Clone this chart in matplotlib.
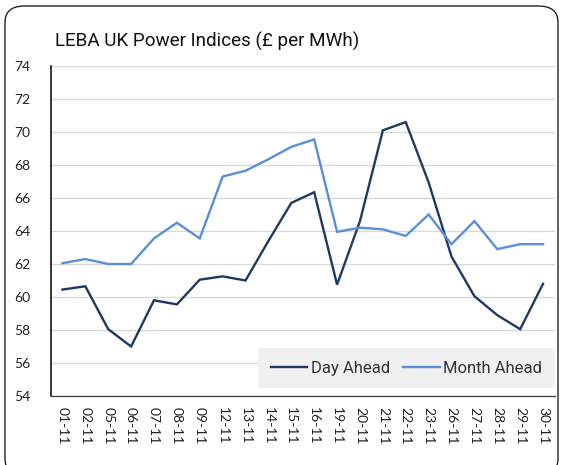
import matplotlib
matplotlib.use("Agg")
import matplotlib.pyplot as plt
from matplotlib.patches import FancyBboxPatch

dates = ["01-11", "02-11", "05-11", "06-11", "07-11", "08-11", "09-11",
         "12-11", "13-11", "14-11", "15-11", "16-11", "19-11", "20-11",
         "21-11", "22-11", "23-11", "26-11", "27-11", "28-11", "29-11", "30-11"]
day_ahead = [60.45, 60.65, 58.05, 57.0, 59.8, 59.55, 61.05, 61.25, 61.0, 63.4, 65.7,
             66.35, 60.75, 64.6, 70.1, 70.6, 66.95, 62.45, 60.05, 58.9, 58.05, 60.8]
month_ahead = [62.05, 62.3, 62.0, 62.0, 63.55, 64.5, 63.55, 67.3, 67.65, 68.35, 69.1,
               69.55, 63.95, 64.2, 64.1, 63.7, 65.0, 63.2, 64.6, 62.9, 63.2, 63.2]
yticks = list(range(54, 75, 2))

W, H = 563, 465
fig = plt.figure(figsize=(W / 100, H / 100), dpi=100)
fig.patch.set_facecolor("white")

ax = fig.add_axes([51 / W, 1 - 396 / H, (554.5 - 51) / W, (396 - 66) / H])

x = list(range(len(dates)))
l1, = ax.plot(x, day_ahead, color="#1f3864", lw=1.7, label="Day Ahead", solid_joinstyle="miter")
l2, = ax.plot(x, month_ahead, color="#5a8fd8", lw=1.7, label="Month Ahead", solid_joinstyle="miter")

ax.set_xlim(-0.5, len(dates) - 0.5)
ax.set_ylim(54, 74)
ax.set_yticks(yticks)
ax.set_yticklabels([str(v) for v in yticks], fontsize=10, family="Lato", color="#222222")
ax.set_xticks(x)
ax.set_xticklabels(dates, rotation=270, fontsize=10, family="Lato", color="#222222")
ax.tick_params(axis="y", length=0, pad=15)
ax.tick_params(axis="x", length=0, pad=8)
ax.yaxis.grid(True, color="#d9d9d9", lw=1.0)
ax.set_axisbelow(True)
for s in ["top", "right"]:
    ax.spines[s].set_visible(False)
ax.spines["left"].set_color("#000000")
ax.spines["left"].set_linewidth(1.1)
ax.spines["bottom"].set_color("#404040")
ax.spines["bottom"].set_linewidth(0.9)

leg = ax.legend(handles=[l1, l2], loc="lower right", bbox_to_anchor=(1.0, 0.024),
                borderaxespad=0, ncol=2, frameon=True, fancybox=False, facecolor="#f0f0f0",
                edgecolor="none", framealpha=1, handlelength=2.2, handletextpad=0.2,
                columnspacing=0.8, borderpad=0.75,
                prop={"family": "Roboto", "size": 12})
for t in leg.get_texts():
    t.set_color("#333333")

fig.text(55 / W, 1 - 47 / H, "LEBA UK Power Indices (£ per MWh)", fontsize=13.6,
         family="Roboto", color="#111111", ha="left", va="baseline")

border = FancyBboxPatch((5 / W, -10 / H), (558 - 5) / W, (H - 6 + 10) / H,
                        boxstyle="round,pad=0,rounding_size=0.035",
                        transform=fig.transFigure, fill=False, edgecolor="#222222",
                        lw=1.0, clip_on=False)
fig.patches.append(border)

fig.savefig("out.png", dpi=100)
